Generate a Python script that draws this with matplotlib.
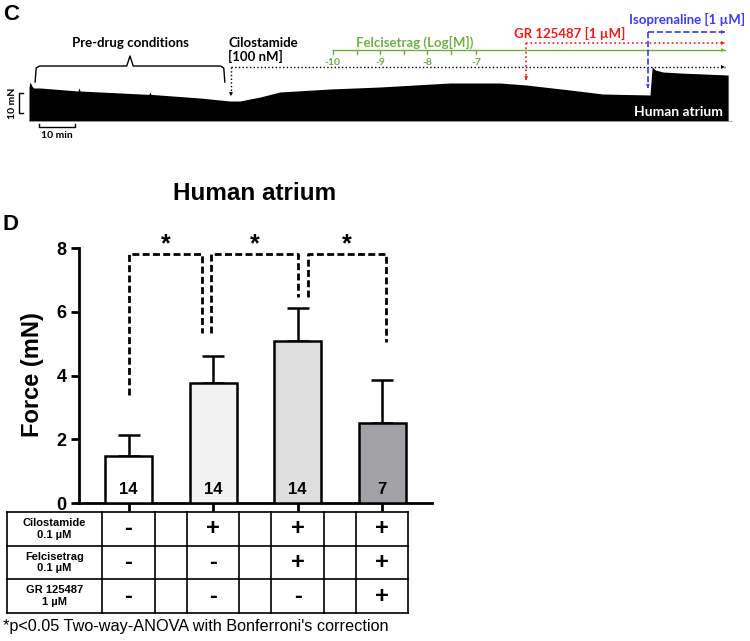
import numpy as np
import matplotlib
matplotlib.use('Agg')
import matplotlib.pyplot as plt

#==============================================================================
# Data
#==============================================================================
# panel C: upper envelope of the force trace (time in min, force in mN)
trace_t = [0.0, 0.3, 0.8, 1.3, 3.1, 13.6, 13.9, 14.2, 33.3, 33.6, 33.9,
           47.5, 55.8, 58.6, 64.2, 69.7, 83.6, 97.5, 116.9, 130.8, 138.1,
           150.3, 159.4, 172.5, 173.1, 174.0, 176.1, 180.8, 194.2]
trace_f = [17.0, 19.5, 17.5, 16.5, 16.5, 15.0, 16.5, 15.0, 13.3, 14.5, 13.3,
           11.5, 10.0, 10.0, 12.0, 14.5, 16.0, 17.0, 19.0, 19.0, 18.0,
           15.5, 13.5, 13.0, 27.0, 25.5, 24.5, 24.0, 23.0]

predrug_t = [1.7, 54.4]
cilostamide_t = 56.1
felcisetrag_t = [84.4, 97.5, 110.6, 124.2]
felcisetrag_minor = [91.1, 104.2, 117.2]
felcisetrag_labels = ['-10', '-9', '-8', '-7']
gr_t = 138.1
iso_t = 171.9
end_t = 193.3

# panel D
force_mean = [1.47, 3.75, 5.09, 2.50]
force_sem = [0.65, 0.87, 1.03, 1.37]
n_values = [14, 14, 14, 7]
bar_colors = ['#ffffff', '#f2f2f2', '#dedede', '#a2a2a6']

row_labels = ['Cilostamide\n0.1 µM', 'Felcisetrag\n0.1 µM', 'GR 125487\n1 µM']
signs = [['-', '+', '+', '+'],
         ['-', '-', '+', '+'],
         ['-', '-', '-', '+']]

# significance brackets: left x, right x, left drop, right drop
sig_pairs = [(0.0, 0.87, 3.39, 5.33),
             (0.98, 2.01, 5.33, 6.46),
             (2.12, 3.05, 6.46, 5.05)]
sig_height = 7.81

W, H = 750, 641
GREEN = '#70ad47'
RED = '#ee1c1c'
BLUE = '#3b3bf2'


def fx(px):
    return px / W


def fy(py):
    return 1 - py / H


def arrow_path(ax, xs, ys, color, ls, lw):
    ax.plot(xs, ys, color=color, ls=ls, lw=lw)
    ax.annotate('', xy=(xs[-1], ys[-1]), xytext=(xs[-2], ys[-2]),
                arrowprops=dict(arrowstyle='-|>', color=color, lw=0,
                                mutation_scale=7, shrinkA=0, shrinkB=0))


#==============================================================================
# Main function
#==============================================================================
def main():
    plt.rcParams['font.family'] = ['Liberation Sans', 'DejaVu Sans']
    fig = plt.figure(figsize=(7.5, 6.41), dpi=100)

    # ---------------- panel C ----------------
    t0_px, px_min, base_px, px_mn = 29, 3.6, 121, 2.0
    ax_c = fig.add_axes([0, fy(160), 1, 160 / H])
    ax_c.set_xlim(-t0_px / px_min, (W - t0_px) / px_min)
    ax_c.set_ylim((base_px - 160) / px_mn, base_px / px_mn)
    ax_c.axis('off')

    ax_c.fill_between(trace_t, 0, trace_f, color='black', lw=0)
    ax_c.plot([0, trace_t[-1] + 1], [0, 0], color='0.6', lw=0.5)

    cf = dict(family=['Lato', 'DejaVu Sans'], fontweight='bold')

    # pre-drug brace
    a, b = predrug_t
    m = (a + b) / 2
    ax_c.plot([a, a + 0.3, a + 1.2, m - 0.9, m, m + 0.9, b - 1.2, b - 0.3, b],
              [19.5, 26.5, 27.5, 27.5, 32.5, 27.5, 27.5, 26.5, 19.5],
              color='black', lw=1)
    ax_c.text(m, 39, 'Pre-drug conditions', ha='center', va='center',
              fontsize=9.5, **cf)

    # cilostamide
    arrow_path(ax_c, [cilostamide_t, cilostamide_t], [27, 12.5], 'black', ':', 1)
    arrow_path(ax_c, [cilostamide_t, end_t], [27, 27], 'black', ':', 1)
    ax_c.text(cilostamide_t - 0.8, 35.5, 'Cilostamide\n[100 nM]', ha='left',
              va='center', fontsize=9.5, linespacing=1.15, **cf)

    # felcisetrag scale
    arrow_path(ax_c, [felcisetrag_t[0], end_t], [35.5, 35.5], GREEN, '-', 1)
    for t in felcisetrag_t + felcisetrag_minor:
        ax_c.plot([t, t], [35.5, 33.3], color=GREEN, lw=1)
    for t, lab in zip(felcisetrag_t, felcisetrag_labels):
        ax_c.text(t, 29.3, lab, ha='center', va='center', color=GREEN,
                  fontsize=7.5, **cf)
    ax_c.text(107.2, 39.5, 'Felcisetrag (Log[M])', ha='center', va='center',
              color=GREEN, fontsize=9.5, **cf)

    # GR 125487
    arrow_path(ax_c, [gr_t, gr_t], [39, 20.5], RED, ':', 1.2)
    arrow_path(ax_c, [gr_t, end_t], [39, 39], RED, ':', 1.2)
    ax_c.text(150.3, 44, 'GR 125487 [1 µM]', ha='center', va='center',
              color=RED, fontsize=9.5, **cf)

    # isoprenaline
    arrow_path(ax_c, [iso_t, iso_t], [44.5, 16.5], BLUE, '--', 1.2)
    arrow_path(ax_c, [iso_t, end_t], [44.5, 44.5], BLUE, '--', 1.2)
    ax_c.text(182.8, 51, 'Isoprenaline [1 µM]', ha='center', va='center',
              color=BLUE, fontsize=9.5, **cf)

    ax_c.text(192.8, 4.5, 'Human atrium', ha='right', va='center',
              color='white', fontsize=10, **cf)

    # scale bars
    ax_c.plot([-1.67, -2.78, -2.78, -1.67], [14, 14, 4, 4], color='black', lw=1)
    ax_c.text(-4.6, 9, '10 mN', rotation=90, ha='center', va='center',
              fontsize=7.5, **cf)
    ax_c.plot([2.78, 2.78, 12.78, 12.78], [-1.5, -3, -3, -1.5],
              color='black', lw=1)
    ax_c.text(7.8, -7, '10 min', ha='center', va='center', fontsize=7.5, **cf)

    fig.text(fx(3), fy(14), 'C', ha='left', va='center', fontsize=16,
             fontweight='bold')

    # ---------------- panel D ----------------
    xlim = (-0.586, 3.59)
    ax = fig.add_axes([fx(79), fy(503), (432 - 79) / W, (503 - 248) / H])
    x = np.arange(len(force_mean))
    ax.bar(x, force_mean, width=0.556, color=bar_colors, edgecolor='black',
           linewidth=1.8, zorder=3)
    ax.errorbar(x, force_mean, yerr=[np.zeros(len(x)), force_sem], fmt='none',
                ecolor='black', elinewidth=1.8, capsize=8, capthick=1.8,
                zorder=2)
    ax.set_xlim(*xlim)
    ax.set_ylim(0, 8)
    ax.spines['top'].set_visible(False)
    ax.spines['right'].set_visible(False)
    ax.spines['left'].set_linewidth(2)
    ax.spines['bottom'].set_linewidth(2)
    ax.set_yticks([0, 2, 4, 6, 8])
    ax.set_xticks(x)
    ax.set_xticklabels([])
    ax.tick_params(axis='both', direction='out', length=6, width=2,
                   labelsize=13, pad=3)
    for lbl in ax.get_yticklabels():
        lbl.set_fontweight('bold')

    for i, n in enumerate(n_values):
        ax.text(i, 0.42, str(n), ha='center', va='center', fontsize=12,
                fontweight='bold', zorder=4)

    for xl, xr, yl, yr in sig_pairs:
        ax.plot([xl, xl, xr, xr], [yl, sig_height, sig_height, yr],
                color='black', ls=(0, (2.5, 1.2)), lw=2, clip_on=False)
        ax.text((xl + xr) / 2, 7.9, '*', ha='center', va='baseline',
                fontsize=18, fontweight='bold')

    fig.text(fx(255), fy(193), 'Human atrium', ha='center', va='center',
             fontsize=17.5, fontweight='bold')
    fig.text(fx(33), fy(375), 'Force (mN)', rotation=90, ha='center',
             va='center', fontsize=17, fontweight='bold')
    fig.text(fx(3), fy(225), 'D', ha='left', va='center', fontsize=16,
             fontweight='bold')

    # table of treatments
    axt = fig.add_axes([fx(79), fy(613), (432 - 79) / W, (613 - 512) / H])
    axt.set_xlim(*xlim)
    axt.set_ylim(3, 0)
    axt.axis('off')
    left, right, hw = -1.438, 3.31, 0.31
    for r in range(4):
        axt.plot([left, right], [r, r], color='black', lw=1.2, clip_on=False)
    vlines = [left] + [v for i in x for v in (i - hw, i + hw)]
    for v in vlines:
        axt.plot([v, v], [0, 3], color='black', lw=1.2, clip_on=False)
    for r, lab in enumerate(row_labels):
        axt.text((left + (-hw)) / 2, r + 0.5, lab, ha='center', va='center',
                 fontsize=8, fontweight='bold')
        for i, s in enumerate(signs[r]):
            axt.text(i, r + 0.5, s, ha='center', va='center', fontsize=17,
                     fontweight='bold')

    fig.text(fx(3), fy(627), "*p<0.05 Two-way-ANOVA with Bonferroni's correction",
             ha='left', va='center', fontsize=11.7)

    fig.savefig('out.png', dpi=100)


if __name__ == "__main__":
    main()
